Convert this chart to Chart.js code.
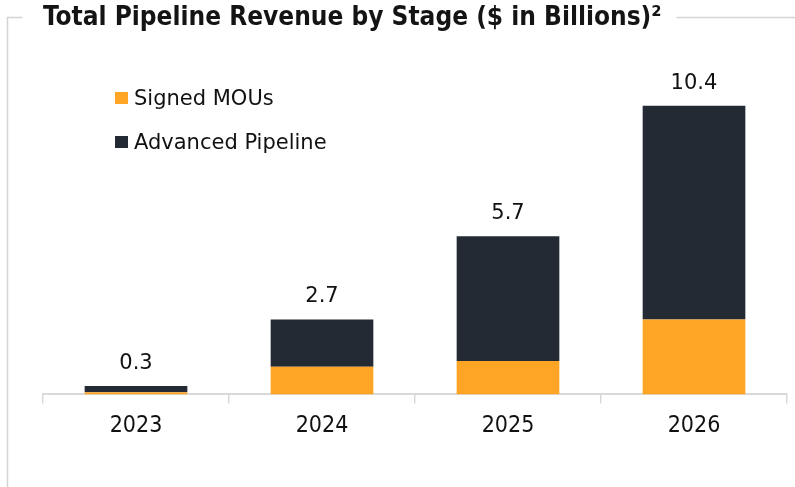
<!DOCTYPE html>
<html>
<head>
<meta charset="utf-8">
<script src="https://cdn.jsdelivr.net/npm/chart.js@4.4.1/dist/chart.umd.min.js"></script>
<style>
  html, body { margin: 0; padding: 0; background: #fff; }
  #wrap { width: 795px; height: 487px; position: relative; }
</style>
</head>
<body>
<div id="wrap"><canvas id="pipelineChart"></canvas></div>
<script>
  const years = ['2023', '2024', '2025', '2026'];
  const signedMous = [0.08, 1.0, 1.2, 2.7];
  const advancedPipeline = [0.22, 1.7, 4.5, 7.7];
  const seriesNames = ['Signed MOUs', 'Advanced Pipeline'];
  const titleText = 'Total Pipeline Revenue by Stage ($ in Billions)\u00B2';

  const ORANGE = '#FFA526';
  const DARK = '#232A34';
  const FRAME = '#d4d4d4';

  // light frame around the panel, broken by the title
  const framePlugin = {
    id: 'frame',
    beforeDraw(chart) {
      const { ctx } = chart;
      const t = chart.options.plugins.title;
      ctx.save();
      ctx.font = `bold ${t.font.size}px ${t.font.family}`;
      const titleW = ctx.measureText(titleText).width;
      ctx.strokeStyle = FRAME;
      ctx.lineWidth = 1.5;
      ctx.beginPath();
      ctx.moveTo(22.5, 17.5);
      ctx.lineTo(7.5, 17.5);
      ctx.lineTo(7.5, chart.height);
      ctx.moveTo(chart.chartArea.left + titleW + 15, 17.5);
      ctx.lineTo(chart.width, 17.5);
      ctx.stroke();
      ctx.restore();
    }
  };

  // vertical legend in the upper left of the plot
  const legendPlugin = {
    id: 'cornerLegend',
    afterDraw(chart) {
      const { ctx } = chart;
      ctx.save();
      ctx.font = '21px "DejaVu Sans"';
      ctx.textBaseline = 'middle';
      chart.data.datasets.forEach((ds, i) => {
        const y = 92 + i * 44;
        ctx.fillStyle = ds.backgroundColor;
        ctx.fillRect(115, y, 13, 12);
        ctx.fillStyle = '#111';
        ctx.fillText(ds.label, 134, y + 8);
      });
      ctx.restore();
    }
  };

  // stack totals above each bar
  const totalsPlugin = {
    id: 'totals',
    afterDatasetsDraw(chart) {
      const { ctx } = chart;
      const last = chart.getDatasetMeta(chart.data.datasets.length - 1);
      ctx.save();
      ctx.font = '21px "DejaVu Sans"';
      ctx.fillStyle = '#111';
      ctx.textAlign = 'center';
      ctx.textBaseline = 'alphabetic';
      years.forEach((year, i) => {
        const total = chart.data.datasets.reduce((sum, ds) => sum + Number(ds.data[i] || 0), 0);
        const bar = last.data[i];
        ctx.fillText(total.toFixed(1), bar.x, bar.y - 17);
      });
      ctx.restore();
    }
  };

  new Chart(document.getElementById('pipelineChart'), {
    type: 'bar',
    data: {
      labels: years,
      datasets: [
        { label: seriesNames[0], data: signedMous, backgroundColor: ORANGE },
        { label: seriesNames[1], data: advancedPipeline, backgroundColor: DARK }
      ]
    },
    options: {
      responsive: true,
      maintainAspectRatio: false,
      animation: false,
      events: [],
      layout: { padding: { left: 43, right: 8, top: 0, bottom: 38 } },
      datasets: { bar: { categoryPercentage: 1, barPercentage: 0.552 } },
      plugins: {
        legend: { display: false },
        tooltip: { enabled: false },
        title: {
          display: true,
          text: titleText,
          align: 'start',
          color: '#141414',
          font: { family: '"DejaVu Sans Condensed", "DejaVu Sans"', size: 26, weight: 'bold' },
          padding: { top: 3, bottom: 27 }
        }
      },
      scales: {
        x: {
          stacked: true,
          border: { display: true, color: '#d9d9d9', width: 2 },
          grid: { offset: true, drawOnChartArea: false, drawTicks: true, tickLength: 9, color: '#d9d9d9', lineWidth: 1.5 },
          ticks: { color: '#111', padding: 9, font: { family: '"DejaVu Sans Condensed", "DejaVu Sans"', size: 23 } }
        },
        y: {
          stacked: true,
          display: false,
          min: 0,
          max: 12
        }
      }
    },
    plugins: [framePlugin, legendPlugin, totalsPlugin]
  });
</script>
</body>
</html>
